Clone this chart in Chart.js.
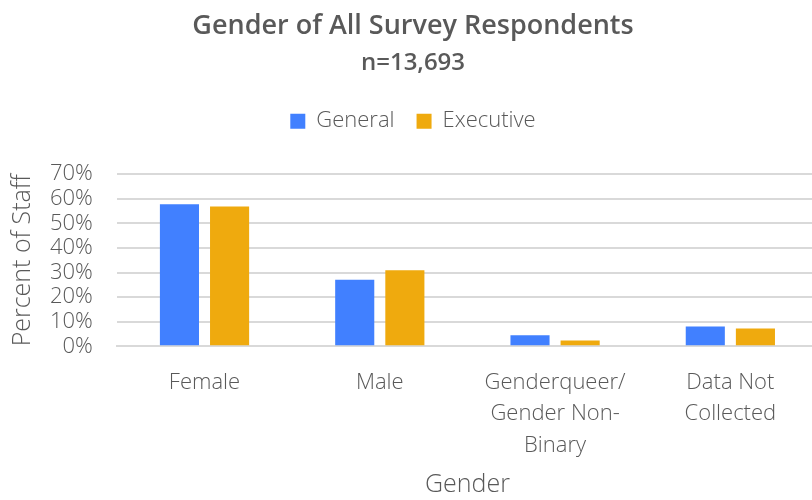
<!DOCTYPE html>
<html>
<head>
<meta charset="utf-8">
<script src="https://cdn.jsdelivr.net/npm/chart.js@4"></script>
<style>
  html, body { margin: 0; padding: 0; background: #fff; overflow: hidden; }
  #wrap { position: relative; width: 824px; height: 500px; }
</style>
</head>
<body>
<div id="wrap"><canvas id="chart"></canvas></div>
<script>
// Values (percent of staff)
const categories = [
    ['Female'],
    ['Male'],
    ['Genderqueer/', 'Gender Non-', 'Binary'],
    ['Data Not', 'Collected'],
];
const generalValues = [57.8, 27.1, 4.5, 8.1];
const executiveValues = [56.9, 30.9, 2.4, 7.2];
const yTicks = [0, 10, 20, 30, 40, 50, 60, 70];

const textColor = '#595959';
const fontFamily = "'Open Sans', 'Noto Sans', sans-serif";

// push the plot down a bit below the legend
const legendGap = {
    id: 'legendGap',
    beforeInit(chart) {
        const origFit = chart.legend.fit;
        chart.legend.fit = function () {
            origFit.bind(chart.legend)();
            this.height += 32;
        };
    },
};

const ctx = document.getElementById('chart').getContext('2d');
new Chart(ctx, {
    type: 'bar',
    data: {
        labels: categories,
        datasets: [
            {
                label: 'General',
                data: generalValues,
                backgroundColor: '#4180ff',
                categoryPercentage: 0.572,
                barPercentage: 0.78,
            },
            {
                label: 'Executive',
                data: executiveValues,
                backgroundColor: '#efaa0e',
                categoryPercentage: 0.572,
                barPercentage: 0.78,
            },
        ],
    },
    options: {
        responsive: true,
        maintainAspectRatio: false,
        animation: false,
        layout: { padding: { left: 8, right: 6, bottom: 0 } },
        plugins: {
            title: {
                display: true,
                text: 'Gender of All Survey Respondents',
                color: textColor,
                font: { family: fontFamily, size: 27, weight: 600 },
                padding: { top: 10, bottom: 6 },
            },
            subtitle: {
                display: true,
                text: 'n=13,693',
                color: textColor,
                font: { family: fontFamily, size: 24, weight: 600 },
                padding: { top: 0, bottom: 11 },
            },
            legend: {
                display: true,
                labels: {
                    color: textColor,
                    font: { family: fontFamily, size: 22, weight: 300 },
                    boxWidth: 15,
                    boxHeight: 15,
                    padding: 22,
                },
            },
            tooltip: { enabled: false },
        },
        scales: {
            x: {
                grid: { display: false, drawTicks: false },
                border: { color: '#d9d9d9', width: 2 },
                afterFit(scale) {
                    scale.height -= 12;
                },
                ticks: {
                    color: textColor,
                    font: { family: fontFamily, size: 22, weight: 300, lineHeight: 1.45 },
                    padding: 20,
                    maxRotation: 0,
                    autoSkip: false,
                },
                title: {
                    display: true,
                    text: 'Gender',
                    color: textColor,
                    font: { family: fontFamily, size: 25, weight: 300 },
                    padding: { top: 0, bottom: 0 },
                },
            },
            y: {
                min: 0,
                max: 70,
                afterBuildTicks(axis) {
                    axis.ticks = yTicks.map((v) => ({ value: v }));
                },
                afterFit(scale) {
                    scale.width -= 14;
                },
                grid: { color: '#d9d9d9', lineWidth: 2, drawTicks: false },
                border: { display: false },
                ticks: {
                    color: textColor,
                    font: { family: fontFamily, size: 22, weight: 300, lineHeight: 1 },
                    padding: 24,
                    autoSkip: false,
                    callback: (v) => v + '%',
                },
                title: {
                    display: true,
                    text: 'Percent of Staff',
                    color: textColor,
                    font: { family: fontFamily, size: 25, weight: 300 },
                    padding: { top: 0, bottom: 2 },
                },
            },
        },
    },
    plugins: [legendGap],
});
</script>
</body>
</html>
